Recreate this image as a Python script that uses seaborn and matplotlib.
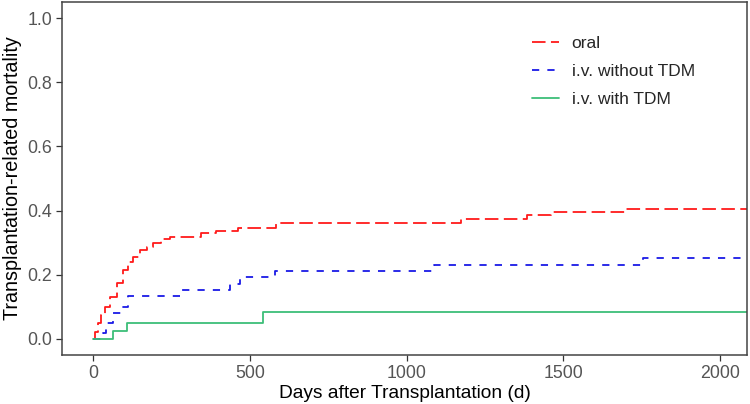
import numpy as np
import pandas as pd
import matplotlib
matplotlib.use("Agg")
import matplotlib.pyplot as plt
import seaborn as sns

# ---- data ----
groups = ["oral", "i.v. without TDM", "i.v. with TDM"]

oral_days = [0, 5, 15, 26, 37, 53, 74, 95, 111, 127, 148, 170, 191, 217, 244,
             345, 390, 462, 582, 1173, 1385, 1462, 1699, 2200]
oral_trm = [0, 0.023, 0.049, 0.075, 0.100, 0.132, 0.173, 0.215, 0.241, 0.256,
            0.277, 0.288, 0.298, 0.310, 0.317, 0.329, 0.336, 0.345, 0.362,
            0.374, 0.386, 0.395, 0.405, 0.405]

ivno_days = [0, 31, 42, 63, 90, 111, 281, 436, 468, 580, 1088, 1754, 2200]
ivno_trm = [0, 0.020, 0.050, 0.080, 0.100, 0.135, 0.152, 0.172, 0.192, 0.212,
            0.231, 0.251, 0.251]

ivtdm_days = [0, 64, 108, 541, 2200]
ivtdm_trm = [0, 0.025, 0.051, 0.084, 0.084]

x_ticks = [0, 500, 1000, 1500, 2000]
y_ticks = [0.0, 0.2, 0.4, 0.6, 0.8, 1.0]

df = pd.concat([
    pd.DataFrame({"day": oral_days, "trm": oral_trm, "group": groups[0]}),
    pd.DataFrame({"day": ivno_days, "trm": ivno_trm, "group": groups[1]}),
    pd.DataFrame({"day": ivtdm_days, "trm": ivtdm_trm, "group": groups[2]}),
], ignore_index=True)

sns.set_theme(style="white")
plt.rcParams["font.family"] = ["Liberation Sans", "DejaVu Sans"]

fig = plt.figure(figsize=(7.5, 4.04), dpi=100)
ax = fig.add_axes([62 / 750, 1 - 355 / 404, (747 - 62) / 750, (355 - 2) / 404])

palette = {groups[0]: "#FF1A1A", groups[1]: "#1A1AE6", groups[2]: "#3DBE78"}
dashes = {groups[0]: (7.5, 3.0), groups[1]: (4.0, 4.5), groups[2]: ""}

sns.lineplot(data=df, x="day", y="trm", hue="group", style="group",
             hue_order=groups, style_order=groups, palette=palette,
             dashes=dashes, estimator=None, sort=False, ax=ax,
             drawstyle="steps-post", linewidth=1.3)
for ln in ax.get_lines():
    ln.set_dash_capstyle("butt")

ax.set_xlim(-100, 2086)
ax.set_ylim(-0.05, 1.05)
ax.set_xticks(x_ticks)
ax.set_yticks(y_ticks)
ax.set_xticklabels([str(t) for t in x_ticks])
ax.set_yticklabels([f"{t:.1f}" for t in y_ticks])
ax.tick_params(axis="both", which="both", length=4, width=0.9,
               color="#333333", labelcolor="#555555", labelsize=12.8,
               direction="out", bottom=True, left=True, pad=3)
ax.set_xlabel("Days after Transplantation (d)", fontsize=13.8, color="black", labelpad=2)
ax.set_ylabel("Transplantation-related mortality", fontsize=14.2, color="black", labelpad=4)
for s in ax.spines.values():
    s.set_color("#444444")
    s.set_linewidth(1.1)
    s.set_visible(True)

leg = ax.legend(title=None, frameon=False, loc="upper left",
                bbox_to_anchor=(0.663, 0.948), fontsize=12.5,
                handlelength=1.55, handletextpad=0.75, labelspacing=0.75)

fig.savefig("out.png", dpi=100)
